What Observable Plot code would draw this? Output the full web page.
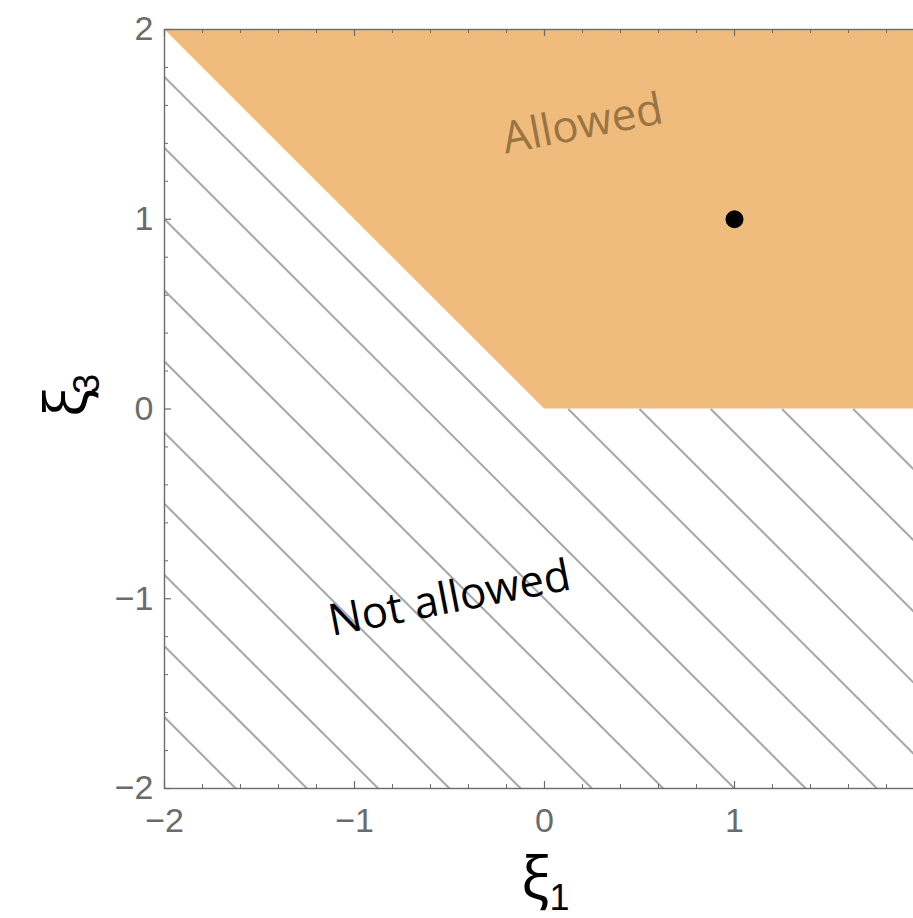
<!DOCTYPE html>
<html><head><meta charset="utf-8">
<script src="https://cdn.jsdelivr.net/npm/d3@7"></script>
<script src="https://cdn.jsdelivr.net/npm/@observablehq/plot@0.6"></script>
<style>html,body{margin:0;padding:0;background:#fff;overflow:hidden}</style>
</head><body><div id="chart"></div>
<script>
// ---- data ----
const majorTicks = [-2, -1, 0, 1, 2];
const tickLabels = ["−2", "−1", "0", "1", "2"];
const xLabelTicks = [-2, -1, 0, 1];   // the label at 2 falls outside the picture
const minorTicks = [-1.8, -1.6, -1.4, -1.2, -0.8, -0.6, -0.4, -0.2, 0.2, 0.4, 0.6, 0.8, 1.2, 1.4, 1.6, 1.8];
const boundaryX = [-2, 0, 2];      // lower boundary of the allowed region
const boundaryY = [2, 0, 0];
const regionTop = 2;
const hatchC = [-3.625, -3.25, -2.875, -2.5, -2.125, -1.75, -1.375, -1, -0.625, -0.25, 0.125, 0.5, 0.875, 1.25, 1.625];  // x + y = c
const pointX = [1];
const pointY = [1];
const labelText = ["Allowed", "Not allowed"];
const labelX = [0.2, -0.5];
const labelY = [1.5, -1.0];

// ---- derived tables ----
const boundary = boundaryX.map((x, i) => ({x, y: boundaryY[i]}));
const hatch = hatchC.map(c => c < 0
  ? {x1: -2, y1: c + 2, x2: c + 2, y2: -2}
  : {x1: c, y1: 0, x2: 2, y2: c - 2});
const points = pointX.map((x, i) => ({x, y: pointY[i]}));
const labels = labelText.map((t, i) => ({text: t, x: labelX[i], y: labelY[i]}));
const fmt = d => tickLabels[majorTicks.indexOf(d)];

const W = 913, H = 918, mL = 164, mR = -11, mT = 29, mB = 130;
const innerH = H - mT - mB, innerW = W - mL - mR;
const majLen = 7, minLen = 4;
const axisCol = "#6b6b6b";

const chart = Plot.plot({
  width: W, height: H,
  marginLeft: mL, marginRight: mR, marginTop: mT, marginBottom: mB,
  style: {fontFamily: "Liberation Sans, Arial, sans-serif", background: "#fff"},
  x: {domain: [-2, 2], axis: null},
  y: {domain: [-2, 2], axis: null},
  marks: [
    Plot.areaY(boundary, {x: "x", y1: "y", y2: regionTop, fill: "#f0bc7e"}),
    Plot.link(hatch, {x1: "x1", y1: "y1", x2: "x2", y2: "y2", stroke: "#a9a9a9", strokeWidth: 2.1}),
    Plot.dot(points, {x: "x", y: "y", r: 9, fill: "#000"}),
    Plot.text(labels.slice(0, 1), {x: "x", y: "y", text: "text", rotate: -11, fontSize: 44, fill: "#9a7443", fontFamily: "Open Sans", lineAnchor: "middle"}),
    Plot.text(labels.slice(1), {x: "x", y: "y", text: "text", rotate: -11, fontSize: 44, fill: "#000", fontFamily: "Open Sans", lineAnchor: "middle"}),
    // frame
    Plot.frame({stroke: axisCol, strokeWidth: 1.4}),
    // inward ticks: bottom, top, left
    Plot.tickX(majorTicks, {x: d => d, insetTop: innerH - majLen, stroke: axisCol, strokeWidth: 1.2}),
    Plot.tickX(minorTicks, {x: d => d, insetTop: innerH - minLen, stroke: axisCol, strokeWidth: 1}),
    Plot.tickX(majorTicks, {x: d => d, insetBottom: innerH - majLen, stroke: axisCol, strokeWidth: 1.2}),
    Plot.tickX(minorTicks, {x: d => d, insetBottom: innerH - minLen, stroke: axisCol, strokeWidth: 1}),
    Plot.tickY(majorTicks, {y: d => d, insetRight: innerW - majLen, stroke: axisCol, strokeWidth: 1.2}),
    Plot.tickY(minorTicks, {y: d => d, insetRight: innerW - minLen, stroke: axisCol, strokeWidth: 1}),
    // tick labels
    Plot.axisX({ticks: xLabelTicks, tickSize: 0, tickPadding: 19, fontSize: 34, color: axisCol,
      tickFormat: fmt, label: null}),
    Plot.axisY({ticks: majorTicks, tickSize: 0, tickPadding: 11, fontSize: 34, color: axisCol,
      tickFormat: fmt, label: null}),
    // axis titles  ξ1 and ξ3
    Plot.text(["ξ"], {x: () => 0, frameAnchor: "bottom", dx: -9, dy: 110, text: d => d, fontSize: 58, fontFamily: "Noto Sans", lineAnchor: "bottom", fill: "#000"}),
    Plot.text(["1"], {x: () => 0, frameAnchor: "bottom", dx: 15, dy: 121, text: d => d, fontSize: 36, lineAnchor: "bottom", fill: "#000"}),
    Plot.text(["ξ"], {y: () => 0, frameAnchor: "left", dx: -78, dy: 8, rotate: -90, text: d => d, fontSize: 58, fontFamily: "Noto Sans", lineAnchor: "bottom", fill: "#000"}),
    Plot.text(["3"], {y: () => 0, frameAnchor: "left", dx: -66, dy: -15, rotate: -90, text: d => d, fontSize: 36, lineAnchor: "bottom", fill: "#000"})
  ]
});
document.getElementById("chart").appendChild(chart);
</script>
</body></html>
